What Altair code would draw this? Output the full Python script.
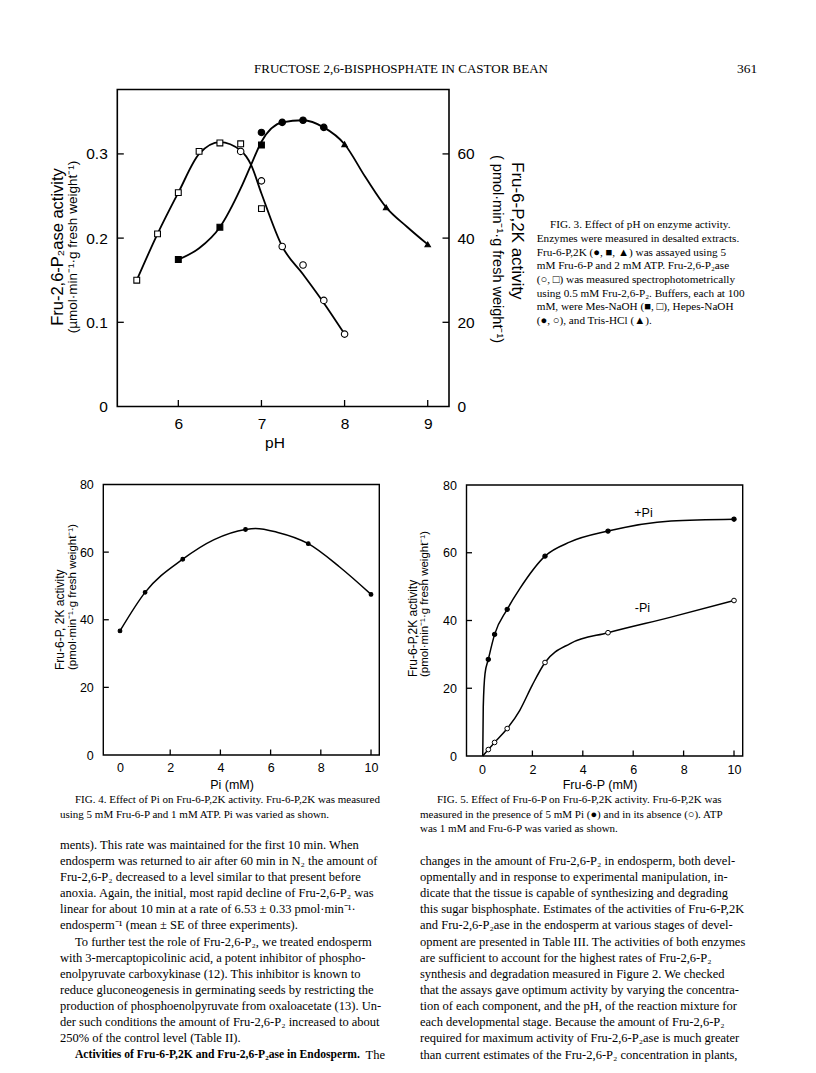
import altair as alt
import pandas as pd

W, H = 800, 1056
M = 8  # page margin: chart px = page px - M


def P(v):
    return v - M


SANS = "Liberation Sans"
SERIF = "Liberation Serif"

# ---------------- Figure 3: effect of pH ----------------
ph_ase_sq = [5.5, 5.75, 6.0, 6.25, 6.5, 6.75, 7.0]
ase_sq = [0.150, 0.205, 0.254, 0.303, 0.313, 0.312, 0.235]
ph_ase_ci = [6.75, 7.0, 7.25, 7.5, 7.75, 8.0]
ase_ci = [0.303, 0.268, 0.190, 0.168, 0.126, 0.086]
ph_ase_curve = [5.5, 5.75, 6.0, 6.25, 6.5, 6.75, 6.875, 7.0, 7.25, 7.5, 7.75, 8.0]
ase_curve = [0.150, 0.205, 0.254, 0.300, 0.314, 0.304, 0.287, 0.253, 0.190, 0.157, 0.123, 0.086]

ph_k_sq = [6.0, 6.5, 7.0]
k_sq = [34.9, 42.6, 62.1]
ph_k_ci = [7.0, 7.25, 7.5, 7.75]
k_ci = [65.1, 67.5, 68.0, 66.3]
ph_k_tri = [8.0, 8.5, 9.0]
k_tri = [62.3, 47.3, 38.5]
ph_k_curve = [6.0, 6.25, 6.5, 6.75, 6.875, 7.0, 7.25, 7.5, 7.75, 8.0, 8.25, 8.5, 8.75, 9.0]
k_curve = [34.9, 37.6, 42.6, 51.8, 57.4, 62.9, 67.5, 68.0, 66.3, 62.3, 54.5, 47.3, 42.7, 38.5]

ph_ticks = [6, 7, 8, 9]
ase_ticks = [0.1, 0.2, 0.3]
ase_labels = [0, 0.1, 0.2, 0.3]
k_ticks = [20, 40, 60]
k_labels = [0, 20, 40, 60]

# ---------------- Figure 4: effect of Pi ----------------
pi_pts = [0, 1, 2.5, 5, 7.5, 10]
pi_act = [36.7, 48.1, 57.9, 66.7, 62.5, 47.5]
pi_curve_x = [0, 1, 2.5, 3.75, 5, 5.4, 6.25, 7.5, 8.75, 10]
pi_curve_y = [36.7, 48.1, 57.9, 63.7, 66.7, 67.0, 65.9, 62.5, 55.6, 47.5]

# ---------------- Figure 5: effect of Fru-6-P ----------------
f6p_pts = [0.25, 0.5, 1.0, 2.5, 5, 10]
plus_pi = [28.5, 35.9, 43.3, 59.0, 66.4, 69.9]
minus_pi = [1.9, 4.0, 8.1, 27.6, 36.4, 45.9]
plus_curve_x = [0.03, 0.05, 0.12, 0.25, 0.5, 1.0, 1.5, 2.5, 3.5, 5, 7.5, 10]
plus_curve_y = [0, 14.5, 24.3, 28.5, 35.9, 43.3, 49.4, 59.0, 63.2, 66.4, 69.4, 69.9]
minus_curve_x = [0.03, 0.25, 0.5, 1.0, 1.5, 2.0, 2.5, 3.5, 5, 7.5, 10]
minus_curve_y = [0, 1.9, 4.0, 8.1, 13.5, 21.0, 27.6, 33.2, 36.4, 41.0, 45.9]

conc_ticks = [2, 4, 6, 8, 10]
conc_labels = [0, 2, 4, 6, 8, 10]
act_ticks = [20, 40, 60]
act_labels = [0, 20, 40, 60, 80]

# ---------------- scales (domain -> pixel range of each panel) ----------------
X3D, Y3D, Y3RD = [5.266, 9.256], [0, 0.3765], [0, 75.3]
F3 = dict(l=117.3, r=449.0, t=89.5, b=406.5)
X3 = alt.Scale(domain=X3D, range=[P(F3["l"]), P(F3["r"])], nice=False, zero=False)
Y3L = alt.Scale(domain=Y3D, range=[P(F3["b"]), P(F3["t"])], nice=False, zero=False)
Y3R = alt.Scale(domain=Y3RD, range=[P(F3["b"]), P(F3["t"])], nice=False, zero=False)

X4D, Y4D = [-0.665, 10.33], [0, 80]
F4 = dict(l=103.3, r=379.3, t=484.5, b=755.0)
X4 = alt.Scale(domain=X4D, range=[P(F4["l"]), P(F4["r"])], nice=False, zero=False)
Y4 = alt.Scale(domain=Y4D, range=[P(F4["b"]), P(F4["t"])], nice=False, zero=False)

X5D, Y5D = [-0.615, 10.345], [0, 80]
F5 = dict(l=466.5, r=742.7, t=485.0, b=756.0)
X5 = alt.Scale(domain=X5D, range=[P(F5["l"]), P(F5["r"])], nice=False, zero=False)
Y5 = alt.Scale(domain=Y5D, range=[P(F5["b"]), P(F5["t"])], nice=False, zero=False)

ONE = pd.DataFrame({"k": [0]})


def scatter(xs, ys, xsc, ysc, shape, size, fill, sw=1.1):
    df = pd.DataFrame({"x": xs, "y": ys})
    return alt.Chart(df).mark_point(
        shape=shape, size=size, fill=fill, stroke="black", strokeWidth=sw,
        opacity=1, fillOpacity=1, strokeOpacity=1
    ).encode(x=alt.X("x:Q", scale=xsc, axis=None), y=alt.Y("y:Q", scale=ysc, axis=None))


def curve(xs, ys, xsc, ysc, sw=1.7):
    df = pd.DataFrame({"x": xs, "y": ys})
    return alt.Chart(df).mark_line(interpolate="monotone", color="black", strokeWidth=sw).encode(
        x=alt.X("x:Q", scale=xsc, axis=None), y=alt.Y("y:Q", scale=ysc, axis=None))


def frame(xsc, ysc, xd, yd, sw):
    return alt.Chart(ONE).mark_rect(fill="transparent", stroke="black", strokeWidth=sw).encode(
        x=alt.XDatum(xd[0], type="quantitative", scale=xsc, axis=None), x2=alt.X2Datum(xd[1]),
        y=alt.YDatum(yd[0], type="quantitative", scale=ysc, axis=None), y2=alt.Y2Datum(yd[1]))


def label_axis(orient, values, offset, fs, pad, fmt_expr=None):
    kw = dict(orient=orient, values=values, offset=offset, ticks=False, tickSize=0, domain=False,
              grid=False, title=None, labelFont=SANS, labelFontSize=fs, labelColor="black",
              labelPadding=pad, labelOverlap=False, labelFlush=False)
    if fmt_expr:
        kw["labelExpr"] = fmt_expr
    return alt.Axis(**kw)


def xticks(vals, xsc, ybot, length, axis):
    df = pd.DataFrame({"v": vals})
    return alt.Chart(df).mark_rule(color="black", strokeWidth=1.3).encode(
        x=alt.X("v:Q", scale=xsc, axis=axis), y=alt.value(P(ybot)), y2=alt.value(P(ybot) - length))


def yticks(vals, ysc, xedge, length, axis):
    df = pd.DataFrame({"v": vals})
    return alt.Chart(df).mark_rule(color="black", strokeWidth=1.3).encode(
        y=alt.Y("v:Q", scale=ysc, axis=axis), x=alt.value(P(xedge)), x2=alt.value(P(xedge) + length))


def txt(s, x, y, fs, font=SERIF, align="left", baseline="middle", angle=0, weight="normal", lh=None):
    kw = dict(text=s, fontSize=fs, font=font, align=align, baseline=baseline, color="black",
              fontWeight=weight)
    if angle:
        kw["angle"] = angle
    if lh:
        kw["lineHeight"] = lh
    return alt.Chart(ONE).mark_text(**kw).encode(x=alt.value(P(x)), y=alt.value(P(y)))


def block(lines, x, y_first, fs, lh, weight="normal"):
    return txt(lines, x, y_first - 0.51 * fs, fs, baseline="top", lh=lh, weight=weight)


layers = []

# ---- Figure 3 panel
layers += [
    frame(X3, Y3L, X3D, Y3D, 1.6),
    xticks(ph_ticks, X3, F3["b"], 6.5,
           label_axis("bottom", ph_ticks, P(F3["b"]) - H, 15.5, 10)),
    yticks(ase_ticks, Y3L, F3["l"], 6.5,
           label_axis("left", ase_labels, -P(F3["l"]), 15.5, 10,
                      "datum.value == 0 ? '0' : format(datum.value, '.1f')")),
    yticks(k_ticks, Y3R, F3["r"], -6.5,
           label_axis("right", k_labels, P(F3["r"]) - W, 15.5, 8)),
    curve(ph_ase_curve, ase_curve, X3, Y3L, 1.8),
    curve(ph_k_curve, k_curve, X3, Y3R, 1.8),
    scatter(ph_ase_sq, ase_sq, X3, Y3L, "square", 34, "white"),
    scatter(ph_ase_ci, ase_ci, X3, Y3L, "circle", 42, "white"),
    scatter(ph_k_sq, k_sq, X3, Y3R, "square", 34, "black"),
    scatter(ph_k_ci, k_ci, X3, Y3R, "circle", 42, "black"),
    scatter(ph_k_tri, k_tri, X3, Y3R, "triangle-up", 30, "black"),
    txt("Fru-2,6-P₂ase activity", 58.3, 247, 16.5, font=SANS, align="center", angle=270),
    txt("(µmol·min⁻¹·g fresh weight⁻¹)", 73.3, 247, 13.5, font=SANS, align="center", angle=270),
    txt("Fru-6-P,2K activity", 516.5, 162, 17, font=SANS, align="left", angle=90),
    txt("( pmol·min⁻¹·g fresh weight⁻¹)", 497, 155, 14.5, font=SANS, align="left", angle=90),
    txt("pH", 275, 443, 15.5, font=SANS, align="center"),
]

# ---- Figure 4 panel
layers += [
    frame(X4, Y4, X4D, Y4D, 1.4),
    xticks(conc_ticks, X4, F4["b"], 5.5,
           label_axis("bottom", conc_labels, P(F4["b"]) - H, 12.5, 6)),
    yticks(act_ticks, Y4, F4["l"], 5.5,
           label_axis("left", act_labels, -P(F4["l"]), 12.5, 10)),
    curve(pi_curve_x, pi_curve_y, X4, Y4, 1.5),
    scatter(pi_pts, pi_act, X4, Y4, "circle", 14, "black"),
    txt("Fru-6-P, 2K activity", 60, 670, 12, font=SANS, align="left", angle=270),
    txt("(pmol·min⁻¹·g fresh weight⁻¹)", 73.3, 670, 11.5, font=SANS, align="left", angle=270),
    txt("Pi (mM)", 232, 785, 12.5, font=SANS, align="center"),
]

# ---- Figure 5 panel
layers += [
    frame(X5, Y5, X5D, Y5D, 1.4),
    xticks(conc_ticks, X5, F5["b"], 5.5,
           label_axis("bottom", conc_labels, P(F5["b"]) - H, 12.5, 7)),
    yticks(act_ticks, Y5, F5["l"], 5.5,
           label_axis("left", act_labels, -P(F5["l"]), 12.5, 10)),
    curve(plus_curve_x, plus_curve_y, X5, Y5, 1.5),
    curve(minus_curve_x, minus_curve_y, X5, Y5, 1.5),
    scatter(f6p_pts, plus_pi, X5, Y5, "circle", 18, "black"),
    scatter(f6p_pts, minus_pi, X5, Y5, "circle", 22, "white", 1.0),
    txt("+Pi", 643.5, 512.5, 12.5, font=SANS, align="center"),
    txt("-Pi", 642.5, 608, 12.5, font=SANS, align="center"),
    txt("Fru-6-P,2K activity", 413.3, 677, 12, font=SANS, align="left", angle=270),
    txt("(pmol·min⁻¹·g fresh weight⁻¹)", 425, 677, 11.5, font=SANS, align="left", angle=270),
    txt("Fru-6-P (mM)", 600, 785, 12.5, font=SANS, align="center"),
]

# ---- Page header and captions
cap3 = [
    "Enzymes were measured in desalted extracts.",
    "Fru-6-P,2K (●, ■, ▲) was assayed using 5",
    "mM Fru-6-P and 2 mM ATP. Fru-2,6-P₂ase",
    "(○, □) was measured spectrophotometrically",
    "using 0.5 mM Fru-2,6-P₂. Buffers, each at 100",
    "mM, were Mes-NaOH (■, □), Hepes-NaOH",
    "(●, ○), and Tris-HCl (▲).",
]
cap4 = ["using 5 mM Fru-6-P and 1 mM ATP. Pi was varied as shown."]
cap5 = [
    "measured in the presence of 5 mM Pi (●) and in its absence (○). ATP",
    "was 1 mM and Fru-6-P was varied as shown.",
]
body_left_a = [
    "ments). This rate was maintained for the first 10 min. When",
    "endosperm was returned to air after 60 min in N₂ the amount of",
    "Fru-2,6-P₂ decreased to a level similar to that present before",
    "anoxia. Again, the initial, most rapid decline of Fru-2,6-P₂ was",
    "linear for about 10 min at a rate of 6.53 ± 0.33 pmol·min⁻¹·",
    "endosperm⁻¹ (mean ± SE of three experiments).",
]
body_left_b = [
    "with 3-mercaptopicolinic acid, a potent inhibitor of phospho-",
    "enolpyruvate carboxykinase (12). This inhibitor is known to",
    "reduce gluconeogenesis in germinating seeds by restricting the",
    "production of phosphoenolpyruvate from oxaloacetate (13). Un-",
    "der such conditions the amount of Fru-2,6-P₂ increased to about",
    "250% of the control level (Table II).",
]
body_right = [
    "changes in the amount of Fru-2,6-P₂ in endosperm, both devel-",
    "opmentally and in response to experimental manipulation, in-",
    "dicate that the tissue is capable of synthesizing and degrading",
    "this sugar bisphosphate. Estimates of the activities of Fru-6-P,2K",
    "and Fru-2,6-P₂ase in the endosperm at various stages of devel-",
    "opment are presented in Table III. The activities of both enzymes",
    "are sufficient to account for the highest rates of Fru-2,6-P₂",
    "synthesis and degradation measured in Figure 2. We checked",
    "that the assays gave optimum activity by varying the concentra-",
    "tion of each component, and the pH, of the reaction mixture for",
    "each developmental stage. Because the amount of Fru-2,6-P₂",
    "required for maximum activity of Fru-2,6-P₂ase is much greater",
    "than current estimates of the Fru-2,6-P₂ concentration in plants,",
]

BFS, BLH, BY0 = 12.5, 16.15, 845
CFS3, CLH3 = 11.2, 13.65
CFS, CLH = 11.0, 14.5

layers += [
    txt("FRUCTOSE 2,6-BISPHOSPHATE IN CASTOR BEAN", 401, 69, 13, align="center"),
    txt("361", 747, 69, 13.5, align="center"),
    # fig 3 caption
    block(["FIG. 3. Effect of pH on enzyme activity."], 550, 225, CFS3, CLH3),
    block(cap3, 536.7, 225 + CLH3, CFS3, CLH3),
    # fig 4 / 5 captions
    block(["FIG. 4. Effect of Pi on Fru-6-P,2K activity. Fru-6-P,2K was measured"], 75, 800, CFS, CLH),
    block(cap4, 60, 800 + CLH, CFS, CLH),
    block(["FIG. 5. Effect of Fru-6-P on Fru-6-P,2K activity. Fru-6-P,2K was"], 437, 800, CFS, CLH),
    block(cap5, 420, 800 + CLH, CFS, CLH),
    # body text, left column
    block(body_left_a, 60, BY0, BFS, BLH),
    block(["To further test the role of Fru-2,6-P₂, we treated endosperm"], 75, BY0 + 6 * BLH, BFS, BLH),
    block(body_left_b, 60, BY0 + 7 * BLH, BFS, BLH),
    block(["Activities of Fru-6-P,2K and Fru-2,6-P₂ase in Endosperm."], 75, BY0 + 13 * BLH, 11.6, BLH,
          weight="bold"),
    txt("The", 385, BY0 + 13 * BLH - 0.51 * BFS, BFS, align="right", baseline="top"),
    # body text, right column
    block(body_right, 420, BY0 + BLH, BFS, BLH),
]

chart = alt.layer(*layers).resolve_scale(
    x="independent", y="independent"
).resolve_axis(
    x="independent", y="independent"
).properties(
    width=W, height=H, padding=0, background="white",
    autosize=alt.AutoSizeParams(type="none"),
).configure_view(stroke=None)

chart.save("out.html", embed_options={"renderer": "svg", "actions": False})
